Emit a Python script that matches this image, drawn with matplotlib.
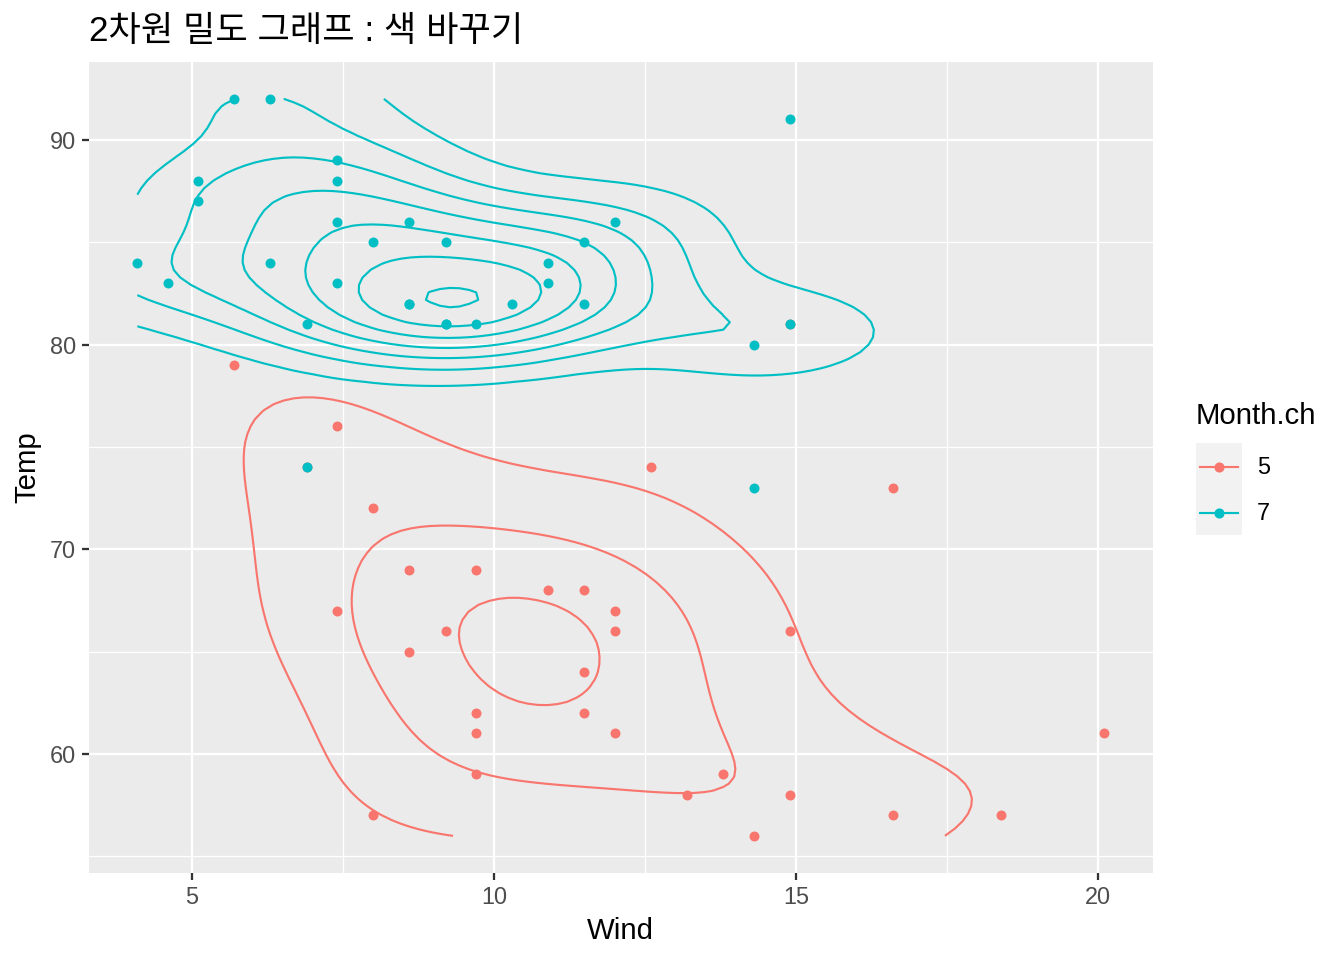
import numpy as np
import matplotlib
matplotlib.use("Agg")
import matplotlib.pyplot as plt
from matplotlib.lines import Line2D
from matplotlib.patches import Rectangle

plt.rcParams['font.family'] = ['Liberation Sans', 'Noto Sans CJK KR', 'DejaVu Sans']

# airquality, Month 5 and 7 (Wind, Temp)
wind_may = [7.4, 8.0, 12.6, 11.5, 14.3, 14.9, 8.6, 13.8, 20.1, 8.6, 6.9, 9.7, 9.2, 10.9, 13.2, 11.5,
            12.0, 18.4, 11.5, 9.7, 9.7, 16.6, 9.7, 12.0, 16.6, 14.9, 8.0, 12.0, 14.9, 5.7, 7.4]
temp_may = [67, 72, 74, 62, 56, 66, 65, 59, 61, 69, 74, 69, 66, 68, 58, 64,
            66, 57, 68, 62, 59, 73, 61, 61, 57, 58, 57, 67, 81, 79, 76]
wind_jul = [4.1, 9.2, 9.2, 10.9, 4.6, 10.9, 5.1, 6.3, 5.7, 7.4, 8.6, 14.3, 14.9, 14.9, 14.3, 6.9,
            10.3, 6.3, 5.1, 11.5, 6.9, 9.7, 11.5, 8.6, 8.0, 8.6, 12.0, 7.4, 7.4, 7.4, 9.2]
temp_jul = [84, 85, 81, 84, 83, 83, 88, 92, 92, 89, 82, 73, 81, 91, 80, 81,
            82, 84, 87, 85, 74, 81, 82, 86, 85, 82, 86, 88, 86, 83, 81]
months = ['5', '7']
colors = {'5': '#F8766D', '7': '#00BFC4'}
groups = {'5': (wind_may, temp_may), '7': (wind_jul, temp_jul)}


def bandwidth_nrd(x):
    x = np.asarray(x, float)
    q1, q3 = np.quantile(x, [0.25, 0.75])
    h = (q3 - q1) / 1.34
    return 4 * 1.06 * min(np.std(x, ddof=1), h) * len(x) ** (-0.2)


def kde2d(x, y, lims, n=100):
    # same as MASS::kde2d
    x = np.asarray(x, float); y = np.asarray(y, float)
    hx, hy = bandwidth_nrd(x) / 4, bandwidth_nrd(y) / 4
    gx = np.linspace(lims[0], lims[1], n)
    gy = np.linspace(lims[2], lims[3], n)
    ax_ = (gx[:, None] - x[None, :]) / hx
    ay_ = (gy[:, None] - y[None, :]) / hy
    dn = lambda u: np.exp(-0.5 * u ** 2) / np.sqrt(2 * np.pi)
    z = dn(ax_) @ dn(ay_).T / (len(x) * hx * hy)
    return gx, gy, z


def r_pretty(lo, hi, n=10):
    cell = (hi - lo) / n
    h, h5 = 1.5, 0.5 + 1.5 * 1.5
    U = 10 ** np.floor(np.log10(cell))
    unit = U
    if 2 * U - cell < h * (cell - unit):
        unit = 2 * U
        if 5 * U - cell < h5 * (cell - unit):
            unit = 5 * U
            if 10 * U - cell < h * (cell - unit):
                unit = 10 * U
    ns = np.floor(lo / unit + 1e-7); nu = np.ceil(hi / unit - 1e-7)
    return np.arange(ns, nu + 1) * unit


all_w = wind_may + wind_jul
all_t = temp_may + temp_jul
lims = (min(all_w), max(all_w), min(all_t), max(all_t))
dens = {m: kde2d(*groups[m], lims) for m in months}
zmin = min(d[2].min() for d in dens.values())
zmax = max(d[2].max() for d in dens.values())
breaks = r_pretty(zmin, zmax, 10)

W, H = 1344, 960
fig = plt.figure(figsize=(7, 5), dpi=192)
L, R, T, B = 89, 1152.5, 62, 872.7
ax = fig.add_axes([L / W, 1 - B / H, (R - L) / W, (B - T) / H])
ax.set_facecolor('#EBEBEB')
for s in ax.spines.values():
    s.set_visible(False)

xr = lims[1] - lims[0]; yr = lims[3] - lims[2]
ax.set_xlim(lims[0] - 0.05 * xr, lims[1] + 0.05 * xr)
ax.set_ylim(lims[2] - 0.05 * yr, lims[3] + 0.05 * yr)
ax.set_xticks([5, 10, 15, 20])
ax.set_yticks([60, 70, 80, 90])
ax.set_xticks([7.5, 12.5, 17.5], minor=True)
ax.set_yticks([55, 65, 75, 85], minor=True)
ax.grid(which='major', color='white', lw=0.85)
ax.grid(which='minor', color='white', lw=0.45)
ax.set_axisbelow(True)
ax.tick_params(which='major', length=2.75, width=0.85, color='#333333', pad=2.2,
               labelsize=8.8, labelcolor='#4D4D4D')
ax.tick_params(which='minor', length=0)

for m in months:
    ax.scatter(*groups[m], s=14, color=colors[m], lw=0, zorder=3)
for m in months:
    gx, gy, z = dens[m]
    ax.contour(gx, gy, z.T, levels=breaks, colors=colors[m], linewidths=0.8, zorder=4)

ax.set_xlabel('Wind', fontsize=11, labelpad=3)
ax.set_ylabel('Temp', fontsize=11, labelpad=3)
fig.text(L / W, 1 - 31 / H, '2차원 밀도 그래프 : 색 바꾸기', fontsize=13.2, va='center', ha='left')

# legend
fig.text(1196 / W, 1 - 416 / H, 'Month.ch', fontsize=11, va='center', ha='left')
fig.add_artist(Rectangle((1196 / W, 1 - 535 / H), 46 / W, 92 / H, transform=fig.transFigure,
                         facecolor='#F2F2F2', edgecolor='none'))
for i, m in enumerate(months):
    yc = 1 - (467 + 46 * i) / H
    fig.add_artist(Line2D([1200 / W, 1238 / W], [yc, yc], transform=fig.transFigure,
                          color=colors[m], lw=0.8))
    fig.add_artist(Line2D([1219 / W], [yc], transform=fig.transFigure, marker='o',
                          markersize=3.8, color=colors[m], mew=0))
    fig.text(1257 / W, yc, m, fontsize=8.8, va='center', ha='left')

fig.savefig('out.png', dpi=192)
